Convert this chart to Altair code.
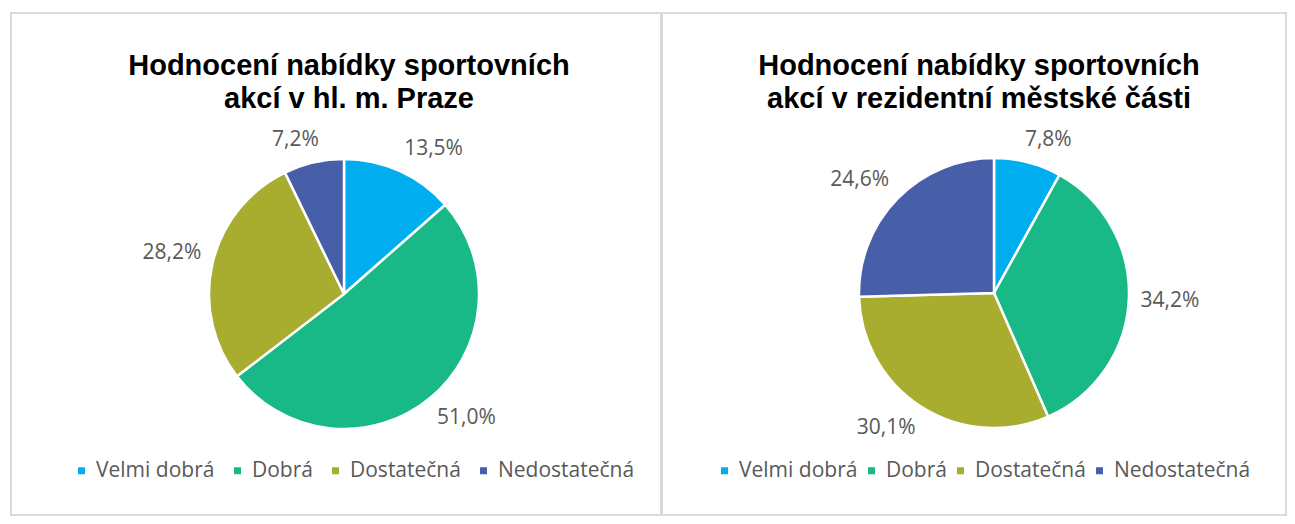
import altair as alt
import pandas as pd

categories = ["Velmi dobrá", "Dobrá", "Dostatečná", "Nedostatečná"]
praha_values = [13.5, 51.0, 28.2, 7.2]
mc_values = [7.8, 34.2, 30.1, 24.6]
colors = ["#00AEEF", "#18B887", "#A9AD2F", "#475EA8"]

title_left = ["Hodnocení nabídky sportovních", "akcí v hl. m. Praze"]
title_right = ["Hodnocení nabídky sportovních", "akcí v rezidentní městské části"]

LABEL_FONT = "Open Sans"
GRAY = "#595959"
RADIUS = 135
LABEL_GAP = 12


def make_df(values):
    return pd.DataFrame({
        "kategorie": categories,
        "podil": values,
        "poradi": list(range(len(categories))),
        "popisek": [f"{v:.1f}".replace(".", ",") + "%" for v in values],
    })


def panel(values, title, width, cx, cy, legend_x, col_pad, title_dx):
    df = make_df(values)
    color = alt.Color(
        "kategorie:N",
        scale=alt.Scale(domain=categories, range=colors),
        sort=categories,
        legend=alt.Legend(
            title=None,
            orient="none",
            legendX=legend_x,
            legendY=447,
            direction="horizontal",
            symbolType="square",
            symbolSize=49,
            symbolStrokeWidth=0,
            labelFont=LABEL_FONT,
            labelFontSize=21,
            labelColor=GRAY,
            labelOffset=4,
            columnPadding=col_pad,
            padding=0,
        ),
    )
    pie = alt.Chart(df).mark_arc(
        outerRadius=RADIUS, stroke="white", strokeWidth=2.5
    ).encode(
        theta=alt.Theta("podil:Q", stack=True),
        order=alt.Order("poradi:Q"),
        color=color,
        x=alt.value(cx),
        y=alt.value(cy),
    )
    rr = RADIUS + LABEL_GAP
    labels = (
        alt.Chart(df)
        .transform_joinaggregate(celkem="sum(podil)")
        .transform_window(kum="sum(podil)", sort=[alt.SortField("poradi")])
        .transform_calculate(
            uhel=f"2*PI*(datum.kum - datum.podil/2)/datum.celkem",
            sirka="length(datum.popisek)*11.6",
        )
        .transform_calculate(
            lx=f"{cx} + {rr}*sin(datum.uhel) + datum.sirka/2*clamp(3*sin(datum.uhel), -1, 1)",
            ly=f"{cy} - {rr}*cos(datum.uhel) - 11*clamp(3*cos(datum.uhel), -1, 1)",
        )
        .mark_text(font=LABEL_FONT, fontSize=21, color=GRAY, align="center", baseline="middle")
        .encode(
            x=alt.X("lx:Q", scale=None, axis=None),
            y=alt.Y("ly:Q", scale=None, axis=None),
            text="popisek:N",
        )
    )
    return alt.layer(pie, labels).properties(
        width=width,
        height=502,
        title=alt.TitleParams(
            title,
            font="Liberation Sans",
            fontSize=29,
            fontWeight="bold",
            color="black",
            anchor="middle",
            frame="group",
            offset=-101,
            lineHeight=33,
            dx=title_dx,
        ),
    )


left = panel(praha_values, title_left, 650, 333, 281, 60, 12, 13)
right = panel(mc_values, title_right, 624, 332, 280, 52, 3, 5)

chart = (
    alt.hconcat(left, right, spacing=-2)
    .resolve_scale(color="independent", theta="independent")
    .resolve_legend(color="independent")
    .properties(padding={"left": 2, "top": 4, "right": 0, "bottom": 0})
    .configure_view(stroke="#D9D9D9", strokeWidth=2)
)

chart.save("out.html", embed_options={"renderer": "svg", "actions": False})
